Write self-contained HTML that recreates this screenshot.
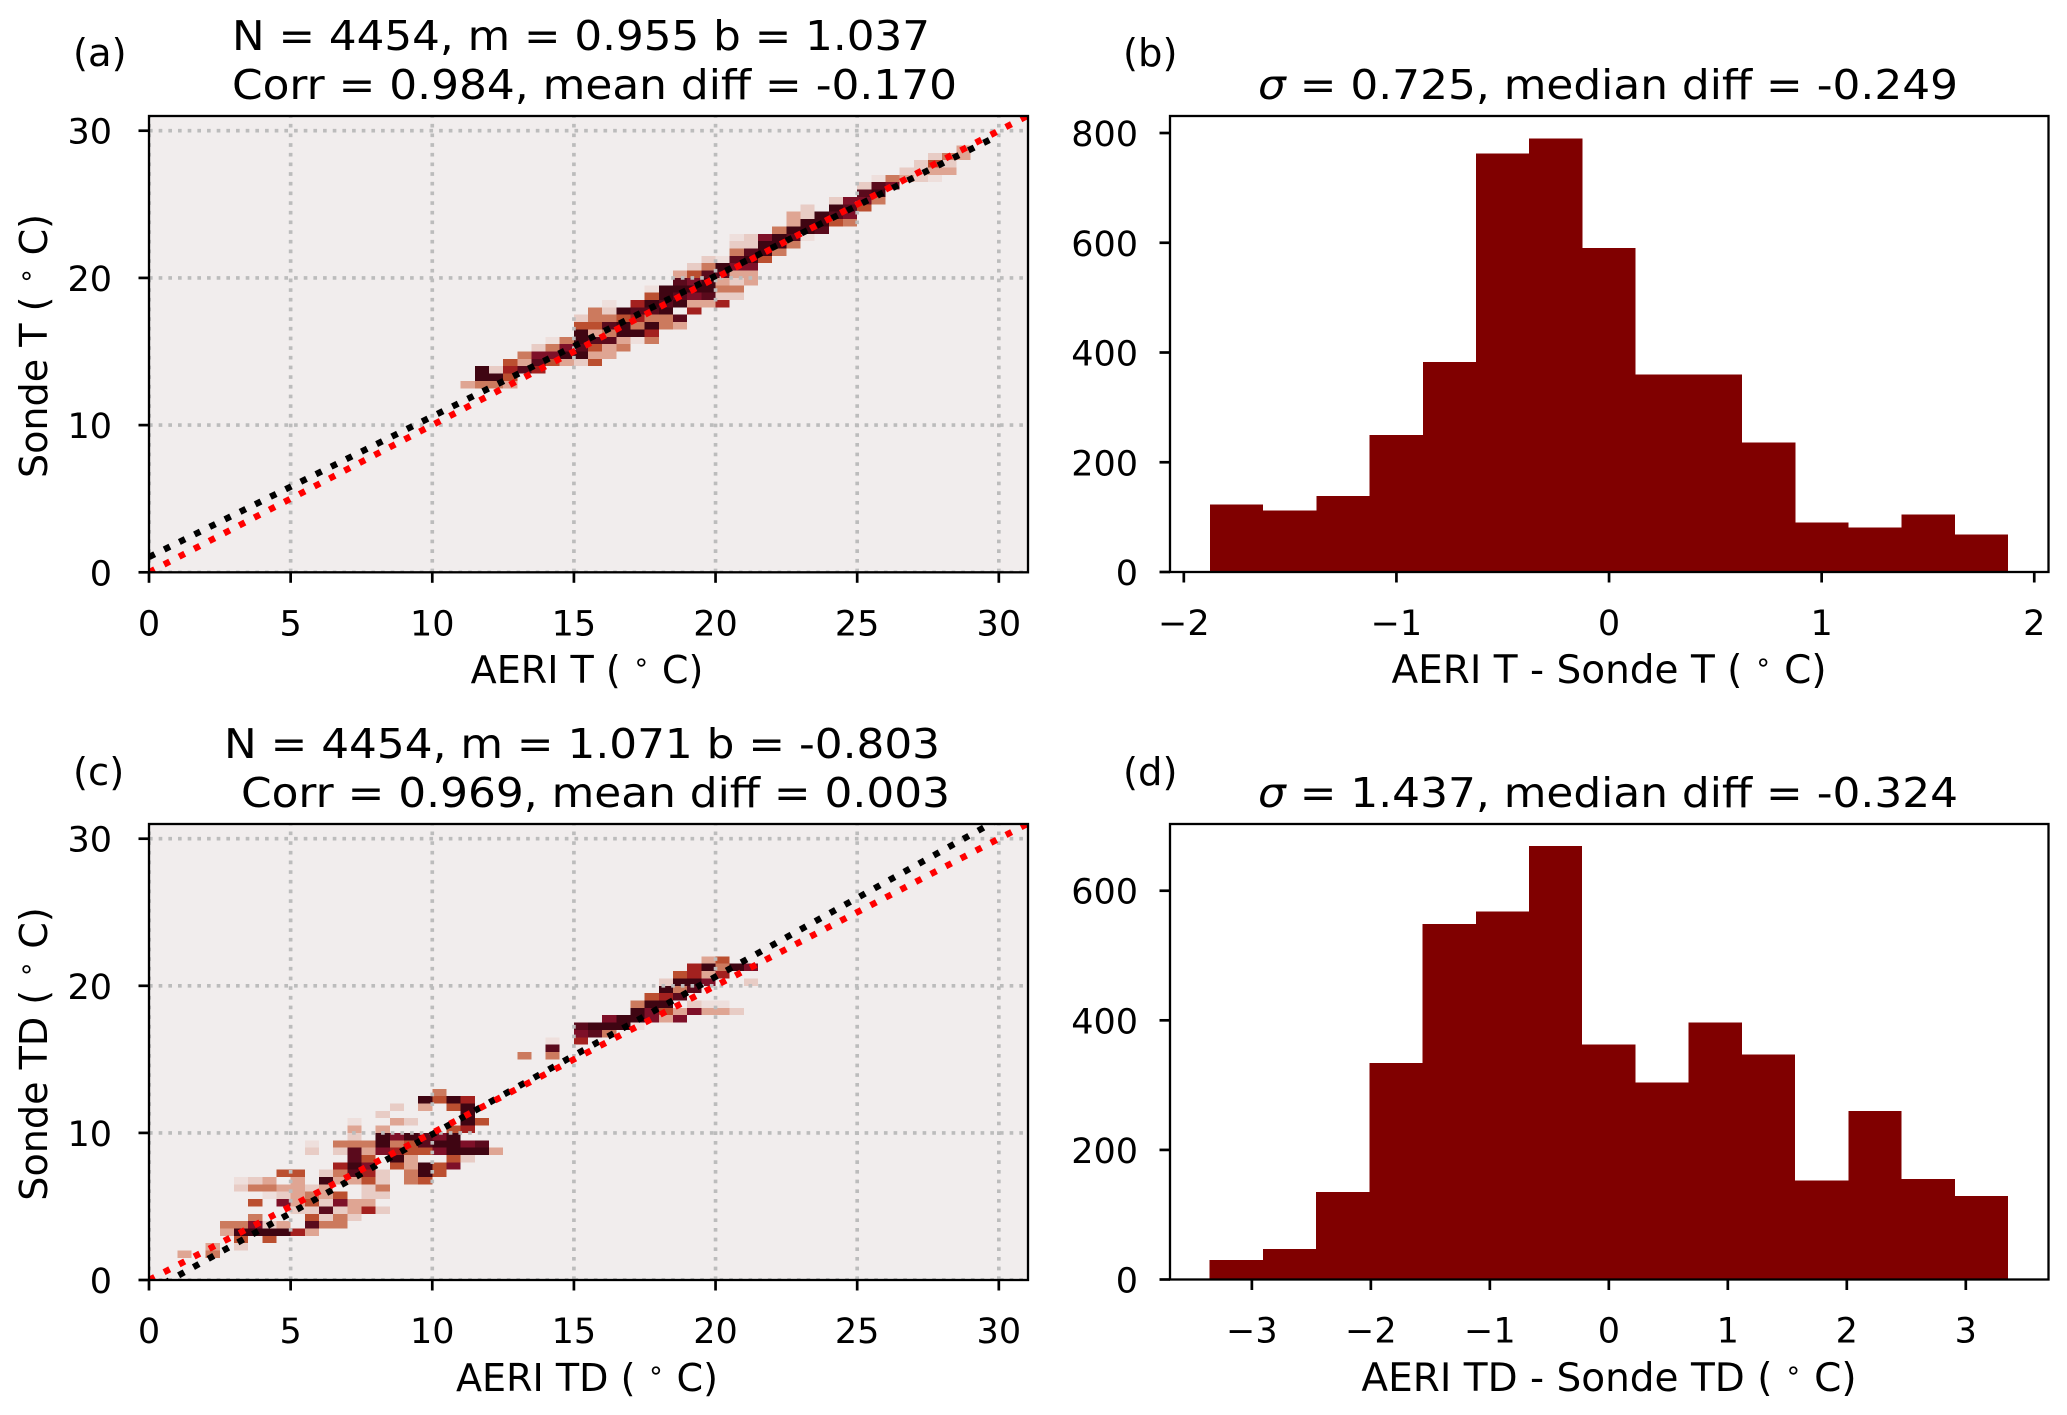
<!DOCTYPE html>
<html lang="en">
<head>
<meta charset="utf-8">
<title>AERI vs Sonde comparison</title>
<style>
html,body{margin:0;padding:0;background:#fff;}
svg{display:block;}
text{font-family:"DejaVu Sans","Liberation Sans",sans-serif;fill:#000;}
.title{font-size:41px;}
.label{font-size:39px;}
.label.short{font-size:38.1px;}
.tick{font-size:35px;}
.panel{font-size:38.5px;}
</style>
</head>
<body>
<svg id="fig" xmlns="http://www.w3.org/2000/svg" width="2067" height="1415" viewBox="0 0 2067 1415">
<rect x="0" y="0" width="2067" height="1415" fill="#fff"/>
<g id="plots"></g>

<text class="panel" x="73" y="66">(a)</text>
<text class="panel" x="1123" y="66">(b)</text>
<text class="panel" x="73" y="785">(c)</text>
<text class="panel" x="1123" y="785">(d)</text>

<text class="title" x="232" y="50" textLength="698" lengthAdjust="spacingAndGlyphs">N = 4454, m = 0.955 b = 1.037</text>
<text class="title" x="232" y="99" textLength="725" lengthAdjust="spacingAndGlyphs">Corr = 0.984, mean diff = -0.170</text>
<text class="title" x="224" y="758" textLength="716" lengthAdjust="spacingAndGlyphs">N = 4454, m = 1.071 b = -0.803</text>
<text class="title" x="241" y="807" textLength="709" lengthAdjust="spacingAndGlyphs">Corr = 0.969, mean diff = 0.003</text>
<text class="title" x="1258" y="99" textLength="700" lengthAdjust="spacingAndGlyphs"><tspan font-style="italic">σ</tspan> = 0.725, median diff = -0.249</text>
<text class="title" x="1258" y="807" textLength="700" lengthAdjust="spacingAndGlyphs"><tspan font-style="italic">σ</tspan> = 1.437, median diff = -0.324</text>

<text class="label short" x="587" y="683" text-anchor="middle">AERI T ( <tspan font-size="27" dy="-12">∘</tspan><tspan dy="12"> C)</tspan></text>
<text class="label" x="1609" y="683" text-anchor="middle">AERI T - Sonde T ( <tspan font-size="27" dy="-12">∘</tspan><tspan dy="12"> C)</tspan></text>
<text class="label short" x="587" y="1391" text-anchor="middle">AERI TD ( <tspan font-size="27" dy="-12">∘</tspan><tspan dy="12"> C)</tspan></text>
<text class="label" x="1609" y="1391" text-anchor="middle">AERI TD - Sonde TD ( <tspan font-size="27" dy="-12">∘</tspan><tspan dy="12"> C)</tspan></text>
<text class="label short" transform="translate(47 346) rotate(-90)" text-anchor="middle">Sonde T ( <tspan font-size="27" dy="-12">∘</tspan><tspan dy="12"> C)</tspan></text>
<text class="label short" transform="translate(47 1054) rotate(-90)" text-anchor="middle">Sonde TD ( <tspan font-size="27" dy="-12">∘</tspan><tspan dy="12"> C)</tspan></text>
</svg>

<script>
// ---- chart data ----
const scatterXTicks = [0, 5, 10, 15, 20, 25, 30];
const scatterYTicks = [0, 10, 20, 30];
const histBXTicks = [-2, -1, 0, 1, 2];
const histBYTicks = [0, 200, 400, 600, 800];
const histDXTicks = [-3, -2, -1, 0, 1, 2, 3];
const histDYTicks = [0, 200, 400, 600];

const histBCounts = [122.7, 112, 138.5, 250, 382.7, 763, 790, 590, 360, 360, 235.7, 90, 81.4, 105, 68.6];
const histBRange = [-1.877, 1.877];
const histDCounts = [30.3, 47.3, 135, 334, 549, 568, 669, 363, 304, 396.6, 347, 153, 260, 155, 129];
const histDRange = [-3.355, 3.355];

const fitA = [0.955, 1.037];
const fitC = [1.071, -0.803];
const lineEndX = 30;
const oneToOneEnd = 40;
const heatBinSize = 0.5;

// each cell: [x bin start, y bin start, colour level 1-9]
const cellsA = [
[11,12.5,3],
[11.5,13.5,9],[11.5,13,9],[11.5,12.5,4],
[12,13.5,2],[12,13,9],[12,12.5,4],
[12.5,14,5],[12.5,13.5,6],[12.5,13,5],[12.5,12.5,3],
[13,14.5,4],[13,14,3],[13,13.5,8],
[13.5,15,2],[13.5,14.5,7],[13.5,14,8],[13.5,13.5,6],
[14,15.5,1],[14,15,4],[14,14.5,7],[14,14,5],
[14.5,15.5,4],[14.5,15,7],[14.5,14.5,9],[14.5,14,3],
[15,17,2],[15,16.5,5],[15,16,9],[15,15.5,9],[15,15,8],[15,14.5,9],[15,14,2],
[15.5,17.5,4],[15.5,17,4],[15.5,16.5,5],[15.5,16,3],[15.5,15.5,8],[15.5,15,5],[15.5,14.5,3],[15.5,14,5],
[16,18,1],[16,17.5,2],[16,17,4],[16,16.5,8],[16,16,4],[16,15.5,8],[16,15,3],[16,14.5,3],
[16.5,17.5,9],[16.5,17,5],[16.5,16.5,9],[16.5,16,9],[16.5,15.5,3],[16.5,15,4],
[17,18,6],[17,17.5,8],[17,17,6],[17,16.5,4],[17,16,9],[17,15.5,1],
[17.5,19,1],[17.5,18.5,5],[17.5,18,9],[17.5,17.5,8],[17.5,17,4],[17.5,16.5,9],[17.5,16,6],[17.5,15.5,4],
[18,19,9],[18,18.5,9],[18,18,8],[18,17.5,9],[18,17,4],[18,16.5,4],
[18.5,20,3],[18.5,19.5,8],[18.5,19,9],[18.5,18.5,8],[18.5,18,9],[18.5,17,8],[18.5,16.5,3],
[19,20.5,2],[19,20,5],[19,19.5,7],[19,19,9],[19,18.5,7],[19,18,3],[19,17.5,6],
[19.5,21,2],[19.5,20.5,4],[19.5,20,8],[19.5,19.5,9],[19.5,19,9],[19.5,18.5,8],[19.5,18,3],
[20,21,1],[20,20.5,9],[20,20,8],[20,19.5,3],[20,19,4],[20,18.5,2],[20,18,6],
[20.5,22.5,1],[20.5,22,2],[20.5,21.5,4],[20.5,21,8],[20.5,20.5,7],[20.5,20,3],[20.5,19.5,2],[20.5,19,4],[20.5,18.5,2],
[21,22.5,2],[21,22,2],[21,21.5,8],[21,21,9],[21,20.5,7],[21,20,3],[21,19.5,3],
[21.5,22.5,7],[21.5,22,9],[21.5,21.5,9],[21.5,21,5],
[22,23,4],[22,22.5,9],[22,22,9],[22,21.5,4],
[22.5,24,3],[22.5,23.5,3],[22.5,23,9],[22.5,22.5,8],[22.5,22,4],
[23,24.5,2],[23,24,2],[23,23.5,9],[23,23,9],[23,22.5,1],
[23.5,24,9],[23.5,23.5,9],[23.5,23,8],
[24,25,2],[24,24.5,9],[24,24,8],[24,23.5,5],
[24.5,25,7],[24.5,24.5,8],[24.5,24,7],[24.5,23.5,4],
[25,26,2],[25,25.5,8],[25,25,7],[25,24.5,5],
[25.5,26.5,1],[25.5,26,8],[25.5,25.5,9],[25.5,25,4],
[26,26.5,4],[26,26,7],
[26.5,27,2],[26.5,26.5,3],
[27,27.5,2],[27,27,2],[27,26.5,2],
[27.5,28,2],[27.5,27.5,5],[27.5,27,3],[27.5,26.5,1],
[28,28,4],[28,27.5,2],[28,27,3],
[28.5,28.5,3],[28.5,28,3]
];

const cellsC = [
[1,1.5,3],
[2,2,3],[2,1.5,4],
[2.5,3.5,4],[2.5,3,3],
[3,6.5,1],[3,6,2],[3,3.5,4],[3,3,9],[3,2.5,5],[3,2,2],
[3.5,6.5,2],[3.5,6,4],[3.5,5,5],[3.5,4,4],[3.5,3.5,7],[3.5,3,9],
[4,6.5,3],[4,6,4],[4,5.5,1],[4,3.5,2],[4,3,9],[4,2.5,5],
[4.5,7,5],[4.5,6,3],[4.5,5.5,2],[4.5,5,7],[4.5,3.5,3],[4.5,3,9],
[5,7,5],[5,6.5,3],[5,6,3],[5,5.5,3],[5,5,3],[5,4.5,2],[5,3,6],
[5.5,9,1],[5.5,8.5,2],[5.5,6,2],[5.5,5.5,4],[5.5,5,5],[5.5,4.5,2],[5.5,4,5],[5.5,3.5,8],[5.5,3,3],
[6,7,2],[6,6.5,9],[6,6,3],[6,5.5,3],[6,5,2],[6,4.5,8],[6,4,2],[6,3.5,4],
[6.5,9,4],[6.5,8.5,2],[6.5,7.5,6],[6.5,7,4],[6.5,6.5,3],[6.5,5.5,5],[6.5,5,7],[6.5,4.5,2],[6.5,4,4],[6.5,3.5,4],
[7,10.5,1],[7,10,3],[7,9.5,2],[7,9,4],[7,8.5,8],[7,8,8],[7,7.5,9],[7,7,8],[7,6.5,3],[7,5,3],[7,4.5,3],[7,4,2],
[7.5,9,4],[7.5,8.5,3],[7.5,8,5],[7.5,7.5,7],[7.5,7,6],[7.5,6.5,5],[7.5,6,2],[7.5,5.5,2],[7.5,5,3],[7.5,4.5,6],
[8,11,2],[8,10,3],[8,9.5,9],[8,9,9],[8,8.5,7],[8,7,2],[8,6.5,2],[8,6,4],[8,5.5,2],[8,4.5,2],
[8.5,11.5,2],[8.5,10.5,3],[8.5,9.5,7],[8.5,9,4],[8.5,8.5,6],[8.5,8,9],[8.5,7.5,5],
[9,10.5,2],[9,9.5,9],[9,9,5],[9,8.5,5],[9,8,3],[9,7.5,3],[9,7,4],[9,6.5,4],
[9.5,12,9],[9.5,11.5,3],[9.5,9.5,8],[9.5,9,8],[9.5,8.5,5],[9.5,7.5,9],[9.5,7,9],[9.5,6.5,5],
[10,12.5,4],[10,12,5],[10,9.5,7],[10,9,9],[10,8.5,7],[10,7.5,5],[10,7,5],
[10.5,12,9],[10.5,11.5,5],[10.5,10,5],[10.5,9.5,9],[10.5,9,9],[10.5,8.5,9],[10.5,8,5],[10.5,7.5,7],
[11,12,6],[11,11.5,9],[11,11,9],[11,10.5,9],[11,10,6],[11,9,7],[11,8.5,9],[11,8,2],
[11.5,10.5,5],[11.5,9,8],[11.5,8.5,9],
[12,8.5,3],
[13,15,4],
[14,16,1],[14,15.5,8],[14,15,4],
[15,17,8],[15,16.5,7],[15,16,6],
[15.5,17,9],[15.5,16.5,8],
[16,17.5,7],[16,17,9],[16,16.5,4],
[16.5,17.5,9],[16.5,17,9],
[17,18.5,4],[17,18,9],[17,17.5,9],[17,17,1],
[17.5,19,5],[17.5,18.5,9],[17.5,18,7],[17.5,17.5,7],
[18,20,2],[18,19.5,9],[18,19,6],[18,18.5,9],[18,18,5],[18,17.5,3],
[18.5,20.5,5],[18.5,20,9],[18.5,19.5,4],[18.5,19,8],[18.5,18,3],[18.5,17.5,7],
[19,21,6],[19,20.5,6],[19,20,9],[19,19.5,8],[19,18.5,2],[19,18,7],
[19.5,21.5,3],[19.5,21,9],[19.5,20.5,3],[19.5,20,7],[19.5,18.5,1],[19.5,18,3],
[20,21.5,5],[20,21,4],[20,20.5,6],[20,18.5,1],[20,18,3],
[20.5,21,9],[20.5,18,2],
[21,21,7],[21,20,2]
];

// ---- rendering ----
const NS = 'http://www.w3.org/2000/svg';
const plots = document.getElementById('plots');
const heatColors = ['#f1eded','#eedfdc','#e8ccc5','#dfa593','#cc7a5e','#bb4f30','#a3211f','#7e1028','#5a0a1c','#3f0512'];

function make(parent, tag, attrs) {
  const el = document.createElementNS(NS, tag);
  for (const k in attrs) el.setAttribute(k, attrs[k]);
  parent.appendChild(el);
  return el;
}
function scale(domain, range) {
  return v => range[0] + (v - domain[0]) / (domain[1] - domain[0]) * (range[1] - range[0]);
}
function fmt(v) {
  return v < 0 ? '\u2212' + Math.abs(v) : String(v);
}

function drawFrame(g, box, xs, ys, xTicks, yTicks, labelRight, key) {
  for (const t of xTicks) {
    const tick = make(g, 'line', {x1: xs(t), x2: xs(t), y1: box.b, y2: box.b + 10.5, stroke: '#000', 'stroke-width': 2.7});
    
    
    const label = make(g, 'text', {x: xs(t), y: box.b + 63, 'text-anchor': 'middle', class: 'tick'});
    label.textContent = fmt(t);
    
    
  }
  for (const t of yTicks) {
    const tick = make(g, 'line', {x1: box.l - 10.5, x2: box.l, y1: ys(t), y2: ys(t), stroke: '#000', 'stroke-width': 2.7});
    
    
    const label = make(g, 'text', {x: labelRight, y: ys(t) + 13, 'text-anchor': 'end', class: 'tick'});
    label.textContent = fmt(t);
    
    
  }
  const frame = make(g, 'rect', {x: box.l, y: box.t, width: box.r - box.l, height: box.b - box.t, fill: 'none', stroke: '#000', 'stroke-width': 2.3});
  
  
}

function drawScatter(key, box, cells, fit) {
  const xs = scale([0, 31.03], [box.l, box.r]);
  const ys = scale([0, 31], [box.b, box.t]);
  const g = make(plots, 'g', {});
  
  
  const clipId = 'clip-' + key;
  const defs = make(g, 'defs', {});
  const cp = make(defs, 'clipPath', {id: clipId});
  make(cp, 'rect', {x: box.l, y: box.t, width: box.r - box.l, height: box.b - box.t});
  const bg = make(g, 'rect', {x: box.l, y: box.t, width: box.r - box.l, height: box.b - box.t, fill: heatColors[0]});
  
  
  const inner = make(g, 'g', {'clip-path': 'url(#' + clipId + ')'});
  for (const c of cells) {
    const x0 = xs(c[0]), x1 = xs(c[0] + heatBinSize), y0 = ys(c[1] + heatBinSize), y1 = ys(c[1]);
    const r = make(inner, 'rect', {x: x0, y: y0, width: x1 - x0, height: y1 - y0, fill: heatColors[c[2]], 'shape-rendering': 'crispEdges'});
    
    
  }
  const gridAttrs = {stroke: '#bcbcbc', 'stroke-width': 3.65, 'stroke-dasharray': '3.65 6.02', fill: 'none'};
  for (const t of scatterXTicks) {
    const l = make(inner, 'line', Object.assign({x1: xs(t), x2: xs(t), y1: box.b, y2: box.t}, gridAttrs));
    
    
  }
  for (const t of scatterYTicks) {
    const l = make(inner, 'line', Object.assign({x1: box.l, x2: box.r, y1: ys(t), y2: ys(t)}, gridAttrs));
    
    
  }
  const dash = {'stroke-width': 6.39, 'stroke-dasharray': '6.39 10.55', fill: 'none'};
  const fitLine = make(inner, 'line', Object.assign({x1: xs(0), y1: ys(fit[1]), x2: xs(lineEndX), y2: ys(fit[0] * lineEndX + fit[1]), stroke: '#000'}, dash));
  
  
  const refLine = make(inner, 'line', Object.assign({x1: xs(0), y1: ys(0), x2: xs(oneToOneEnd), y2: ys(oneToOneEnd), stroke: '#ff0000'}, dash));
  
  
  drawFrame(g, box, xs, ys, scatterXTicks, scatterYTicks, 112, key);
}

function drawHist(key, box, counts, range, xDomain, yMax, xTicks, yTicks) {
  const xs = scale(xDomain, [box.l, box.r]);
  const ys = scale([0, yMax], [box.b, box.t]);
  const g = make(plots, 'g', {});
  
  
  const w = (range[1] - range[0]) / counts.length;
  counts.forEach((c, i) => {
    const x0 = xs(range[0] + i * w), x1 = xs(range[0] + (i + 1) * w);
    const r = make(g, 'rect', {x: x0, y: ys(c), width: x1 - x0, height: box.b - ys(c), fill: '#800000', 'shape-rendering': 'crispEdges'});
    
    
  });
  drawFrame(g, box, xs, ys, xTicks, yTicks, 1138, key);
}

drawScatter('a', {l: 149, r: 1028, t: 116, b: 572.3}, cellsA, fitA);
drawScatter('c', {l: 149, r: 1028, t: 824, b: 1280}, cellsC, fitC);
drawHist('b', {l: 1170, r: 2048.5, t: 116, b: 572}, histBCounts, histBRange, [-2.065, 2.067], 831, histBXTicks, histBYTicks);
drawHist('d', {l: 1170, r: 2048.5, t: 824, b: 1279.5}, histDCounts, histDRange, [-3.688, 3.695], 703, histDXTicks, histDYTicks);
</script>
</body>
</html>
